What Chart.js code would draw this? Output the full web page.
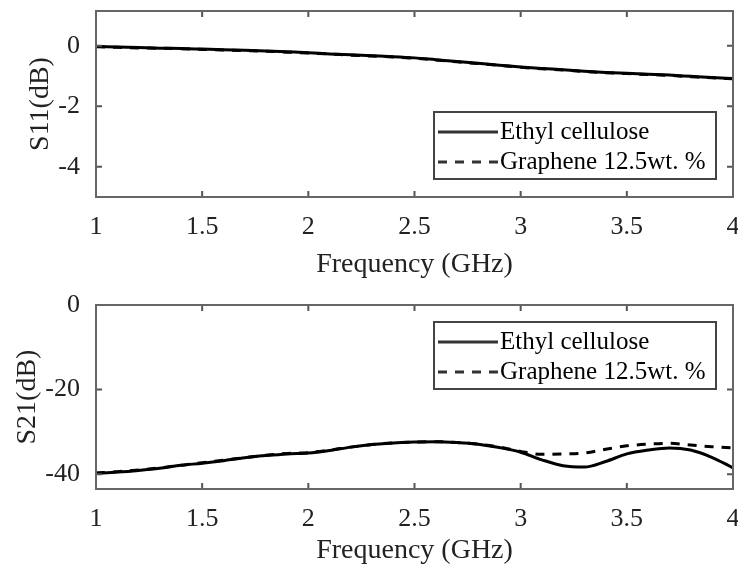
<!DOCTYPE html>
<html>
<head>
<meta charset="utf-8">
<script src="https://cdn.jsdelivr.net/npm/chart.js@4/dist/chart.umd.min.js"></script>
<style>
  html, body { margin: 0; padding: 0; background: #fff; }
  #wrap { position: relative; width: 738px; height: 568px; }
  canvas { position: absolute; left: 0; }
  #s11Chart { top: 0; }
  #s21Chart { top: 290px; }
</style>
</head>
<body>
<div id="wrap">
  <canvas id="s11Chart" width="738" height="290"></canvas>
  <canvas id="s21Chart" width="738" height="278"></canvas>
</div>
<script>
	// 주파수 (GHz)
	const freq = [1.0, 1.1, 1.2, 1.3, 1.4, 1.5, 1.6, 1.7, 1.8, 1.9, 2.0,
	              2.1, 2.2, 2.3, 2.4, 2.5, 2.6, 2.7, 2.8, 2.9, 3.0,
	              3.1, 3.2, 3.3, 3.4, 3.5, 3.6, 3.7, 3.8, 3.9, 4.0];

	// S11 (dB)
	const s11Ethyl = [-0.02, -0.04, -0.06, -0.08, -0.09, -0.11, -0.13, -0.15, -0.17, -0.20, -0.23,
	                  -0.27, -0.30, -0.33, -0.36, -0.40, -0.46, -0.52, -0.58, -0.64, -0.70,
	                  -0.75, -0.79, -0.84, -0.88, -0.91, -0.94, -0.97, -1.01, -1.05, -1.08];
	const s11Graphene = [-0.03, -0.05, -0.07, -0.08, -0.10, -0.12, -0.14, -0.16, -0.18, -0.21, -0.24,
	                     -0.27, -0.31, -0.34, -0.37, -0.41, -0.47, -0.53, -0.59, -0.65, -0.71,
	                     -0.76, -0.80, -0.85, -0.89, -0.92, -0.95, -0.98, -1.02, -1.06, -1.09];

	// S21 (dB)
	const s21Ethyl = [-39.8, -39.5, -39.1, -38.6, -37.9, -37.4, -36.8, -36.1, -35.6, -35.2, -35.0,
	                  -34.4, -33.6, -33.0, -32.6, -32.4, -32.3, -32.5, -32.9, -33.7, -34.8,
	                  -36.6, -38.0, -38.3, -37.0, -35.2, -34.3, -33.8, -34.3, -36.0, -38.5];
	const s21Graphene = [-39.7, -39.4, -39.0, -38.5, -37.9, -37.3, -36.7, -36.1, -35.5, -35.1, -34.9,
	                     -34.3, -33.6, -33.0, -32.6, -32.4, -32.3, -32.5, -32.9, -33.6, -34.6,
	                     -35.3, -35.2, -35.0, -34.1, -33.3, -32.9, -32.7, -33.1, -33.5, -33.8];

	// 눈금
	const xTicks = [1, 1.5, 2, 2.5, 3, 3.5, 4];
	const s11Ticks = [-4, -2, 0];
	const s21Ticks = [-40, -20, 0];

	const legendLabels = ['Ethyl cellulose', 'Graphene 12.5wt. %'];

	const FONT = "'Liberation Serif', 'Times New Roman', serif";

	const toPoints = (ys) => freq.map((f, i) => ({x: f, y: ys[i]}));

	// 축 여백 없애기 (차트 영역 위치 고정)
	const noPad = (s) => {
		s.paddingTop = 0; s.paddingBottom = 0;
		s.paddingLeft = 0; s.paddingRight = 0;
	};

	// 테두리 + 안쪽 눈금
	const frameTicks = {
		id: 'frameTicks',
		afterDatasetsDraw(chart) {
			const {ctx, chartArea: a, scales: {x, y}} = chart;
			const tl = 6;
			ctx.save();
			ctx.strokeStyle = '#555';
			ctx.lineWidth = 2;
			ctx.beginPath();
			x.ticks.forEach(t => {
				const px = x.getPixelForValue(t.value);
				ctx.moveTo(px, a.bottom); ctx.lineTo(px, a.bottom - tl);
				ctx.moveTo(px, a.top); ctx.lineTo(px, a.top + tl);
			});
			y.ticks.forEach(t => {
				const py = y.getPixelForValue(t.value);
				ctx.moveTo(a.left, py); ctx.lineTo(a.left + tl, py);
				ctx.moveTo(a.right, py); ctx.lineTo(a.right - tl, py);
			});
			ctx.stroke();
			ctx.strokeStyle = '#666';
			ctx.strokeRect(a.left, a.top, a.right - a.left, a.bottom - a.top);
			ctx.restore();
		}
	};

	// 그래프 안 범례
	const boxLegend = {
		id: 'boxLegend',
		afterDraw(chart, args, opts) {
			const {ctx, chartArea: a} = chart;
			const w = 282, h = 67;
			const left = a.right - 17 - w;
			const top = a.top + opts.offsetTop;
			ctx.save();
			ctx.fillStyle = '#fff';
			ctx.fillRect(left, top, w, h);
			ctx.strokeStyle = '#444';
			ctx.lineWidth = 2;
			ctx.strokeRect(left, top, w, h);
			ctx.font = '25px ' + FONT;
			ctx.textBaseline = 'middle';
			ctx.fillStyle = '#000';
			chart.data.datasets.forEach((ds, i) => {
				const cy = top + 20 + i * 30;
				ctx.beginPath();
				ctx.setLineDash(ds.borderDash || []);
				ctx.lineWidth = 3;
				ctx.strokeStyle = '#333';
				ctx.moveTo(left + 4, cy);
				ctx.lineTo(left + 64, cy);
				ctx.stroke();
				ctx.setLineDash([]);
				ctx.fillText(ds.label, left + 66, cy);
			});
			ctx.restore();
		}
	};

	function makeChart(canvasId, e, g, ticks, yMin, yMax, yTitle, o) {
		const ctx = document.querySelector('#' + canvasId);
		return new Chart(ctx, {
			type: 'line',
			data: {
				datasets: [
					{
						label: legendLabels[0],
						data: toPoints(e),
						borderColor: '#000',
						borderWidth: 3,
						pointRadius: 0,
						cubicInterpolationMode: 'monotone'
					},
					{
						label: legendLabels[1],
						data: toPoints(g),
						borderColor: '#000',
						borderWidth: 3,
						borderDash: [9, 8],
						pointRadius: 0,
						cubicInterpolationMode: 'monotone'
					}
				]
			},
			options: {
				responsive: false,
				animation: false,
				layout: {padding: {left: 0, right: 5, top: o.top, bottom: 0}},
				plugins: {
					legend: {display: false},
					tooltip: {enabled: false},
					boxLegend: {offsetTop: o.legendTop}
				},
				scales: {
					x: {
						type: 'linear',
						min: 1,
						max: 4,
						afterBuildTicks: (s) => { s.ticks = xTicks.map(v => ({value: v})); },
						afterFit: (s) => { s.height = o.xHeight; noPad(s); },
						grid: {display: false, drawTicks: false},
						border: {display: false},
						ticks: {
							font: {family: FONT, size: 26},
							color: '#222',
							padding: 15,
							maxRotation: 0,
							callback: (v) => String(v)
						},
						title: {
							display: true,
							text: 'Frequency (GHz)',
							font: {family: FONT, size: 28},
							color: '#222',
							padding: {top: 0, bottom: o.xTitlePad}
						}
					},
					y: {
						min: yMin,
						max: yMax,
						afterBuildTicks: (s) => { s.ticks = ticks.map(v => ({value: v})); },
						afterFit: (s) => { s.width = 96; noPad(s); },
						grid: {display: false, drawTicks: false},
						border: {display: false},
						ticks: {
							font: {family: FONT, size: 26},
							color: '#222',
							padding: 16,
							callback: (v) => String(v)
						},
						title: {
							display: true,
							text: yTitle,
							font: {family: FONT, size: 28},
							color: '#222',
							padding: {top: o.yTitlePad, bottom: 0}
						}
					}
				}
			},
			plugins: [frameTicks, boxLegend]
		});
	}

	const s11Chart = makeChart('s11Chart', s11Ethyl, s11Graphene, s11Ticks, -5, 1.15, 'S11(dB)',
		{top: 11, xHeight: 93, xTitlePad: 9, yTitlePad: 24, legendTop: 101});
	const s21Chart = makeChart('s21Chart', s21Ethyl, s21Graphene, s21Ticks, -43.5, 0, 'S21(dB)',
		{top: 15, xHeight: 79, xTitlePad: 1, yTitlePad: 11, legendTop: 17});
</script>
</body>
</html>
